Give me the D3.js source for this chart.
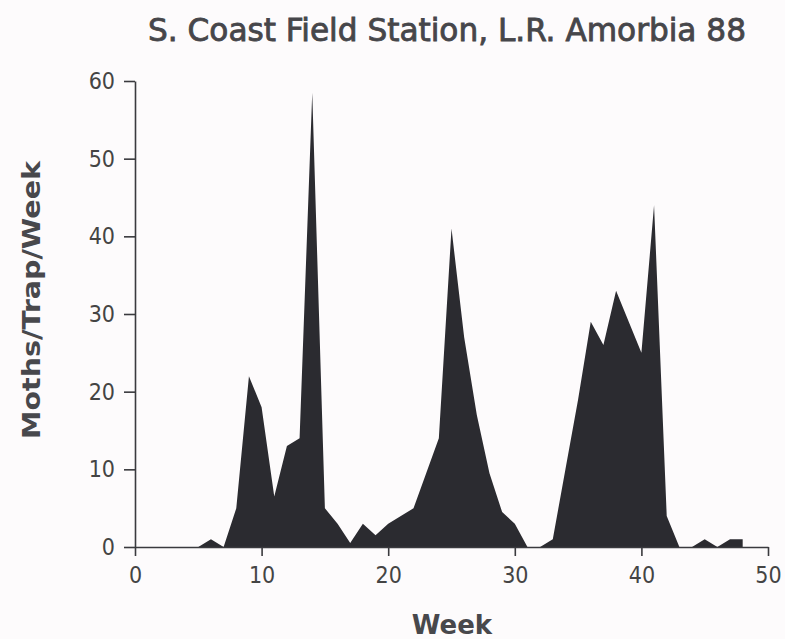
<!DOCTYPE html>
<html>
<head>
<meta charset="utf-8">
<script src="https://cdn.jsdelivr.net/npm/d3@7"></script>
<style>
  body { margin: 0; background: #fdfbfc; }
  svg { display: block; }
</style>
</head>
<body>
<svg width="785" height="639"></svg>
<script>
var svg = d3.select("svg");
var width = +svg.attr("width");
var height = +svg.attr("height");

// weekly counts
var weeks = d3.range(0, 49);
var moths = [0, 0, 0, 0, 0, 0, 1, 0, 5, 22,
             18, 6.5, 13, 14, 58.5, 5, 3, 0.5, 3, 1.5,
             3, 4, 5, 9.5, 14, 41, 27, 17, 9.5, 4.5,
             3, 0, 0, 1, 10, 19, 29, 26, 33, 29,
             25, 44, 4, 0, 0, 1, 0, 1, 1];
var xTicks = [0, 10, 20, 30, 40, 50];
var yTicks = [0, 10, 20, 30, 40, 50, 60];

var data = weeks.map(function(w, i) {
    return { week: w, value: moths[i] };
});

var x = d3.scaleLinear().domain([0, 50]).range([135, 768]);
var y = d3.scaleLinear().domain([0, 60]).range([547, 81]);

var ink = "#3a3a3e";

// filled area
var area = d3.area()
    .x(function(d) { return x(d.week); })
    .y0(y(0))
    .y1(function(d) { return y(d.value); });

svg.append("path")
    .datum(data)
    .attr("d", area)
    .attr("fill", "#2b2b30");

// axes
var xAxis = svg.append("g")
    .attr("transform", "translate(0," + y(0) + ")")
    .call(d3.axisBottom(x).tickValues(xTicks).tickSize(9).tickPadding(11).tickSizeOuter(0));

var yAxis = svg.append("g")
    .attr("transform", "translate(" + x(0) + ",0)")
    .call(d3.axisLeft(y).tickValues(yTicks).tickSize(11).tickPadding(9).tickSizeOuter(0));

[xAxis, yAxis].forEach(function(g) {
    g.select(".domain").attr("stroke", ink).attr("stroke-width", 1.6);
    g.selectAll(".tick line").attr("stroke", ink).attr("stroke-width", 1.6);
    g.selectAll(".tick text")
        .attr("fill", "#444")
        .style("font-family", "DejaVu Sans Condensed")
        .style("font-size", "23px");
});

// title - narrow, slightly heavy lettering
svg.append("text")
    .attr("x", 447)
    .attr("y", 41)
    .attr("text-anchor", "middle")
    .attr("textLength", 598)
    .attr("lengthAdjust", "spacingAndGlyphs")
    .attr("fill", "#46464a")
    .attr("stroke", "#46464a")
    .attr("stroke-width", 0.8)
    .style("font-family", "DejaVu Sans Condensed")
    .style("font-size", "32px")
    .text("S. Coast Field Station, L.R. Amorbia 88");

// axis titles
svg.append("text")
    .attr("transform", "translate(40,300) rotate(-90)")
    .attr("text-anchor", "middle")
    .attr("textLength", 278)
    .attr("lengthAdjust", "spacingAndGlyphs")
    .attr("fill", "#48484c")
    .style("font-family", "DejaVu Sans")
    .style("font-weight", "bold")
    .style("font-size", "24px")
    .text("Moths/Trap/Week");

svg.append("text")
    .attr("x", 452)
    .attr("y", 634)
    .attr("text-anchor", "middle")
    .attr("fill", "#48484c")
    .style("font-family", "DejaVu Sans")
    .style("font-weight", "bold")
    .style("font-size", "26px")
    .text("Week");
</script>
</body>
</html>
